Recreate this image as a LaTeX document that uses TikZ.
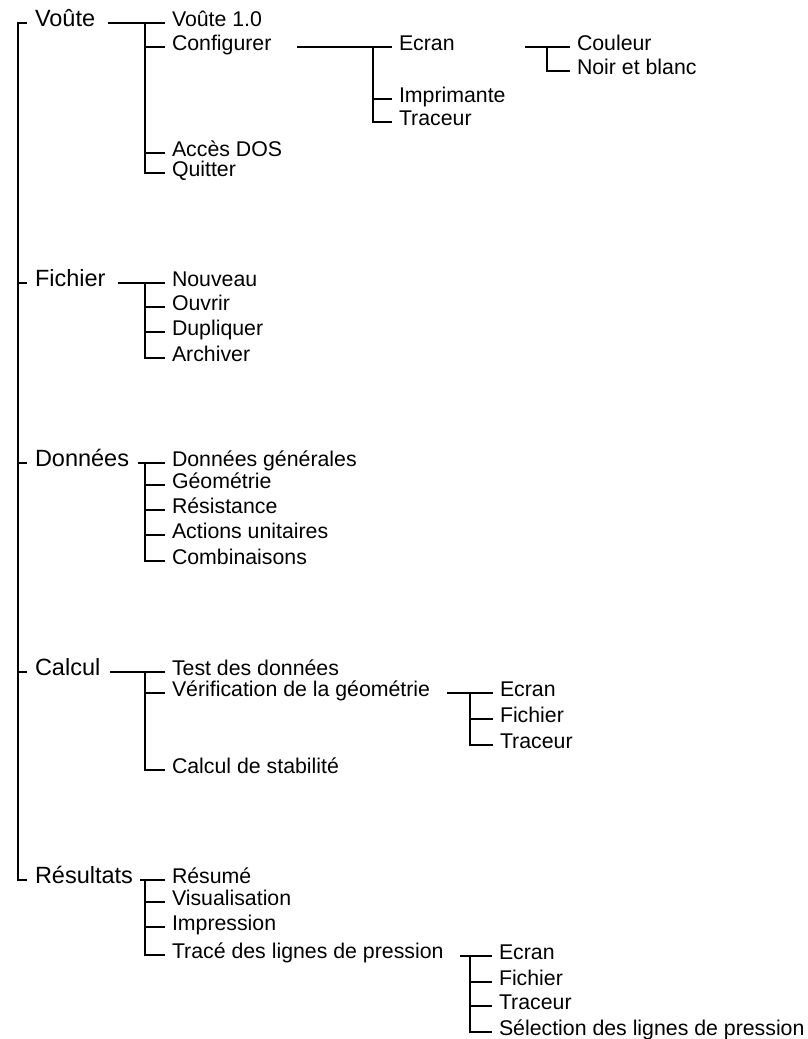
\documentclass[tikz,border=0pt]{standalone}
\usepackage{fontspec}
\setmainfont{Liberation Sans}
\begin{document}
\begin{tikzpicture}[x=1pt,y=-1pt,
  ln/.style={line width=2pt},
  top/.style={anchor=west,inner sep=0pt,outer xsep=8pt,font=\fontsize{23.5}{26}\selectfont,text height=10pt,text depth=3pt},
  sub/.style={anchor=west,inner sep=0pt,outer xsep=7pt,font=\fontsize{21.3}{24}\selectfont,text height=10pt,text depth=4pt}]
\useasboundingbox (0,0) rectangle (808,1039);
% top level
\node[top] (voute) at (27,23) {Voûte};
\node[top] (fich) at (27,283) {Fichier};
\node[top] (donn) at (27,463) {Données};
\node[top] (calc) at (27,672) {Calcul};
\node[top] (res) at (27,880) {Résultats};
% Voute children
\node[sub] (v1) at (165,23) {Voûte 1.0};
\node[sub] (conf) at (165,47) {Configurer};
\node[sub] (dos) at (165,153) {Accès DOS};
\node[sub] (quit) at (165,173) {Quitter};
% Configurer children
\node[sub] (ecr) at (392,47) {Ecran};
\node[sub] (impr) at (392,99) {Imprimante};
\node[sub] (trac) at (392,122) {Traceur};
% Ecran children
\node[sub] (coul) at (570,47) {Couleur};
\node[sub] (noir) at (570,71) {Noir et blanc};
% Fichier children
\node[sub] (nouv) at (165,283) {Nouveau};
\node[sub] (ouvr) at (165,307) {Ouvrir};
\node[sub] (dupl) at (165,332) {Dupliquer};
\node[sub] (arch) at (165,358) {Archiver};
% Donnees children
\node[sub] (dgen) at (165,463) {Données générales};
\node[sub] (geom) at (165,485) {Géométrie};
\node[sub] (resi) at (165,510) {Résistance};
\node[sub] (acti) at (165,535) {Actions unitaires};
\node[sub] (comb) at (165,561) {Combinaisons};
% Calcul children
\node[sub] (test) at (165,672) {Test des données};
\node[sub] (veri) at (165,693) {Vérification de la géométrie};
\node[sub] (stab) at (165,770) {Calcul de stabilité};
% Verification children
\node[sub] (vecr) at (493,693) {Ecran};
\node[sub] (vfic) at (493,719) {Fichier};
\node[sub] (vtra) at (493,745) {Traceur};
% Resultats children
\node[sub] (resu) at (165,880) {Résumé};
\node[sub] (visu) at (165,902) {Visualisation};
\node[sub] (impn) at (165,927) {Impression};
\node[sub] (lign) at (165,955) {Tracé des lignes de pression};
% Trace children
\node[sub] (tecr) at (492,956) {Ecran};
\node[sub] (tfic) at (492,982) {Fichier};
\node[sub] (ttra) at (492,1006) {Traceur};
\node[sub] (tsel) at (492,1032) {Sélection des lignes de pression};

% trunk
\draw[ln] (voute.west) -- ++(-9,0) |- (res.west);
\foreach \n in {fich,donn,calc} \draw[ln] (\n.west) -- ++(-9,0);
% Voute
\draw[ln] (v1.west) -- ++(-57,0);
\draw[ln] (v1.west) ++(-20,0) |- (quit.west);
\foreach \n in {conf,dos} \draw[ln] (\n.west) -- ++(-20,0);
% Configurer
\draw[ln] (ecr.west) -- ++(-95,0);
\draw[ln] (ecr.west) ++(-19,0) |- (trac.west);
\draw[ln] (impr.west) -- ++(-19,0);
% Ecran
\draw[ln] (coul.west) -- ++(-45,0);
\draw[ln] (coul.west) ++(-23,0) |- (noir.west);
% Fichier
\draw[ln] (nouv.west) -- ++(-47,0);
\draw[ln] (nouv.west) ++(-20,0) |- (arch.west);
\foreach \n in {ouvr,dupl} \draw[ln] (\n.west) -- ++(-20,0);
% Donnees
\draw[ln] (dgen.west) -- ++(-27,0);
\draw[ln] (dgen.west) ++(-20,0) |- (comb.west);
\foreach \n in {geom,resi,acti} \draw[ln] (\n.west) -- ++(-20,0);
% Calcul
\draw[ln] (test.west) -- ++(-55,0);
\draw[ln] (test.west) ++(-20,0) |- (stab.west);
\draw[ln] (veri.west) -- ++(-20,0);
% Verification
\draw[ln] (vecr.west) -- ++(-46,0);
\draw[ln] (vecr.west) ++(-23,0) |- (vtra.west);
\draw[ln] (vfic.west) -- ++(-23,0);
% Resultats
\draw[ln] (resu.west) -- ++(-25,0);
\draw[ln] (resu.west) ++(-20,0) |- (lign.west);
\foreach \n in {visu,impn} \draw[ln] (\n.west) -- ++(-20,0);
% Trace
\draw[ln] (tecr.west) -- ++(-32,0);
\draw[ln] (tecr.west) ++(-22,0) |- (tsel.west);
\foreach \n in {tfic,ttra} \draw[ln] (\n.west) -- ++(-22,0);
\end{tikzpicture}
\end{document}
